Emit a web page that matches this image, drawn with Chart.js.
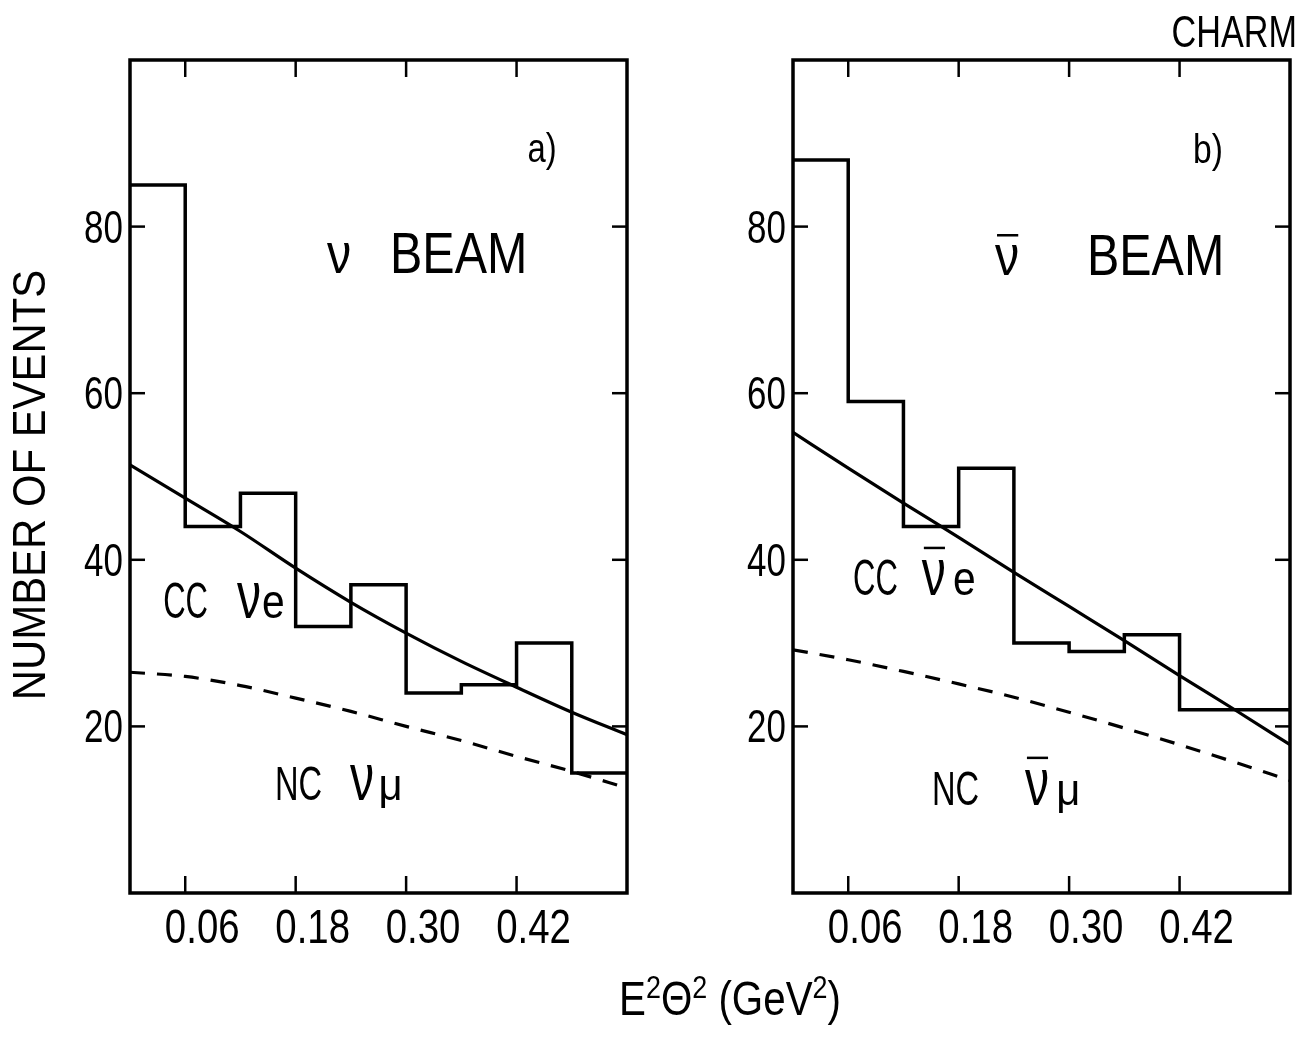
<!DOCTYPE html>
<html><head><meta charset="utf-8">
<script src="https://cdn.jsdelivr.net/npm/chart.js@4.4.1/dist/chart.umd.min.js"></script>
<style>
html,body{margin:0;padding:0;background:#fff;}
#wrap{position:relative;width:1304px;height:1037px;overflow:hidden;background:#fff;}
#c1{position:absolute;left:0;top:0;}
#c2{position:absolute;left:660px;top:0;}
#xt{position:absolute;left:530px;width:400px;top:975px;text-align:center;font-family:'Liberation Sans',Arial,sans-serif;font-size:48px;line-height:48px;color:#000;white-space:nowrap;transform:scaleX(0.84);transform-origin:50% 50%;}
#xt sup{font-size:32px;line-height:0;vertical-align:17px;}
</style>
</head><body>
<div id="wrap">
<canvas id="c1" width="650" height="1037"></canvas>
<canvas id="c2" width="644" height="1037"></canvas>
<div id="xt">E<sup>2</sup>Θ<sup>2</sup> (GeV<sup>2</sup>)</div>
</div>
<script>
// ---- data ----
const binEdges = [0, 0.06, 0.12, 0.18, 0.24, 0.30, 0.36, 0.42, 0.48, 0.54];
const xTicks = [0.06, 0.18, 0.30, 0.42];
const xTickLabels = ['0.06', '0.18', '0.30', '0.42'];
const yTicks = [20, 40, 60, 80];
const yTickLabels = ['20', '40', '60', '80'];
const eventsNuBeam = [85, 44, 48, 32, 37, 24, 25, 30, 14.4];
const eventsNubarBeam = [88, 59, 44, 51, 30, 29, 31, 22, 22];
const curveX = [0, 0.06, 0.12, 0.18, 0.24, 0.30, 0.36, 0.42, 0.48, 0.54];
const ccNuE = [51.4, 47.4, 43.4, 39.0, 34.9, 31.2, 27.8, 24.7, 21.7, 19.0];
const ncNuMu = [26.5, 26.0, 24.9, 23.4, 21.8, 20.0, 18.3, 16.4, 14.6, 12.6];
const ccNubarE = [55.3, 51.0, 46.8, 42.7, 38.5, 34.4, 30.3, 26.1, 22.0, 17.8];
const ncNubarMu = [29.2, 28.0, 26.6, 25.1, 23.5, 21.7, 19.8, 17.8, 15.7, 13.5];

const FONT = "'Liberation Sans',Arial,sans-serif";

const leftTexts = [
  {x: 0.432, y: 87.7, t: 'a)', s: 40, sx: 0.82},
  {x: 0.214, y: 74.4, t: 'ν', s: 57, sx: 0.85},
  {x: 0.2825, y: 74.4, t: 'BEAM', s: 57, sx: 0.85},
  {x: 0.036, y: 33, t: 'CC', s: 50, sx: 0.62},
  {x: 0.1163, y: 33, t: 'ν', s: 67, sx: 0.72},
  {x: 0.1434, y: 33, t: 'e', s: 48, sx: 0.85},
  {x: 0.1575, y: 11.2, t: 'NC', s: 48, sx: 0.68},
  {x: 0.239, y: 11.2, t: 'ν', s: 67, sx: 0.72},
  {x: 0.270, y: 11.2, t: 'μ', s: 44, sx: 0.95}
];
const rightTexts = [
  {x: 0.4346, y: 87.6, t: 'b)', s: 41, sx: 0.82},
  {x: 0.2195, y: 74.2, t: 'ν', s: 57, sx: 0.85, bar: 10},
  {x: 0.3194, y: 74.2, t: 'BEAM', s: 57, sx: 0.85},
  {x: 0.0652, y: 35.8, t: 'CC', s: 50, sx: 0.62},
  {x: 0.140, y: 35.8, t: 'ν', s: 67, sx: 0.72, bar: 12},
  {x: 0.1738, y: 35.8, t: 'e', s: 48, sx: 0.85},
  {x: 0.151, y: 10.6, t: 'NC', s: 48, sx: 0.68},
  {x: 0.252, y: 10.6, t: 'ν', s: 67, sx: 0.72, bar: 12},
  {x: 0.286, y: 10.6, t: 'μ', s: 44, sx: 0.95}
];

// point i starts bin i; 'before' stepping holds the previous point's value across the bin
function histPoints(counts) {
  return binEdges.map((e, i) => ({x: e, y: counts[Math.min(i, counts.length - 1)]}));
}
function curvePoints(vals) {
  return curveX.map((x, i) => ({x: x, y: vals[i]}));
}

function drawText(ctx, text, x, y, size, sx, align, baseline) {
  ctx.save();
  ctx.translate(x, y);
  ctx.scale(sx, 1);
  ctx.font = size + 'px ' + FONT;
  ctx.textAlign = align || 'left';
  ctx.textBaseline = baseline || 'alphabetic';
  ctx.fillText(text, 0, 0);
  const w = ctx.measureText(text).width * sx;
  ctx.restore();
  return w;
}

const framePlugin = {
  id: 'frame',
  afterDraw(chart) {
    const {ctx, chartArea: a, scales: {x, y}} = chart;
    const o = chart.options.plugins.frame;
    ctx.save();
    ctx.strokeStyle = '#000';
    ctx.fillStyle = '#000';
    ctx.lineWidth = 3.5;
    ctx.strokeRect(a.left, a.top, a.right - a.left, a.bottom - a.top);
    ctx.lineWidth = 2.5;
    const ln = (x1, y1, x2, y2) => { ctx.beginPath(); ctx.moveTo(x1, y1); ctx.lineTo(x2, y2); ctx.stroke(); };
    xTicks.forEach((v, i) => {
      const px = x.getPixelForValue(v);
      ln(px, a.bottom, px, a.bottom - 17);
      ln(px, a.top, px, a.top + 17);
      drawText(ctx, xTickLabels[i], px + 17, a.bottom + 50, 48, 0.8, 'center');
    });
    yTicks.forEach((v, i) => {
      const py = y.getPixelForValue(v);
      ln(a.left, py, a.left + 15, py);
      ln(a.right, py, a.right - 15, py);
      drawText(ctx, yTickLabels[i], a.left - 7, py + 16, 46, 0.76, 'right');
    });
    for (const t of o.texts) {
      const px = x.getPixelForValue(t.x), py = y.getPixelForValue(t.y);
      const w = drawText(ctx, t.t, px, py, t.s, t.sx, 'left');
      if (t.bar) {
        const top = py - t.s * 0.52 - t.bar;
        ctx.lineWidth = 2.5;
        ln(px + 2, top, px + w - 1, top);
      }
    }
    if (o.ytitle) {
      ctx.save();
      ctx.translate(32, 485);
      ctx.rotate(-Math.PI / 2);
      drawText(ctx, 'NUMBER OF EVENTS', 0, 0, 46, 0.91, 'center', 'middle');
      ctx.restore();
    }
    if (o.corner) {
      drawText(ctx, 'CHARM', chart.width - 7, 47, 45, 0.76, 'right');
    }
    ctx.restore();
  }
};

function makePanel(id, counts, cc, nc, yWidth, padRight, texts, ytitle, corner) {
  return new Chart(document.getElementById(id), {
    type: 'line',
    data: {
      datasets: [
        {data: histPoints(counts), stepped: 'before', borderColor: '#000', borderWidth: 3.5, pointRadius: 0, fill: false},
        {data: curvePoints(cc), borderColor: '#000', borderWidth: 3.2, pointRadius: 0, cubicInterpolationMode: 'monotone', fill: false},
        {data: curvePoints(nc), borderColor: '#000', borderWidth: 3.2, borderDash: [15, 12], pointRadius: 0, cubicInterpolationMode: 'monotone', fill: false}
      ]
    },
    options: {
      responsive: false,
      animation: false,
      devicePixelRatio: 1,
      layout: {padding: {top: 60, right: padRight, left: 0, bottom: 0}},
      plugins: {legend: {display: false}, tooltip: {enabled: false}, frame: {texts: texts, ytitle: ytitle, corner: corner}},
      scales: {
        x: {
          type: 'linear', min: 0, max: 0.54, position: 'bottom',
          grid: {display: false, drawTicks: false}, border: {display: false},
          ticks: {display: false},
          afterBuildTicks: s => { s.ticks = xTicks.map(v => ({value: v})); },
          afterFit: s => { s.height = 144; }
        },
        y: {
          type: 'linear', min: 0, max: 100,
          grid: {display: false, drawTicks: false}, border: {display: false},
          ticks: {display: false},
          afterBuildTicks: s => { s.ticks = yTicks.map(v => ({value: v})); },
          afterFit: s => { s.width = yWidth; }
        }
      }
    },
    plugins: [framePlugin]
  });
}

makePanel('c1', eventsNuBeam, ccNuE, ncNuMu, 130, 23, leftTexts, true, false);
makePanel('c2', eventsNubarBeam, ccNubarE, ncNubarMu, 133, 14, rightTexts, false, true);
</script>
</body></html>
